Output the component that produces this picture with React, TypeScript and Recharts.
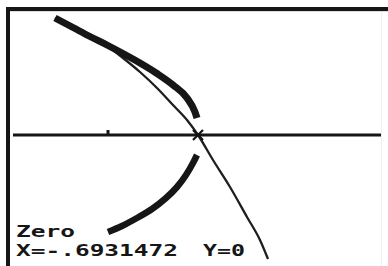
import React from 'react';
import { ComposedChart, Line, Scatter, XAxis, YAxis, ReferenceLine } from 'recharts';

// Window (calculator units)
const xDomain: [number, number] = [-1.3341, -0.0692];
const yDomain: [number, number] = [-0.3275, 0.31];
const axisStartX = -1.3239;
const tickX = -1;
const tickTop = 0.0125;
const zeroX = -0.6931472;
const zeroY = 0;

// Thick curve, upper branch
const upperX = [-1.1807, -1.1193, -1.0614, -1.0034, -0.9489, -0.8909, -0.833, -0.7784, -0.7306, -0.7034, -0.6966];
const upperY = [0.2925, 0.26875, 0.24625, 0.225, 0.20375, 0.18, 0.15375, 0.125, 0.0925, 0.0575, 0.0425];

// Thick curve, lower branch
const lowerX = [-0.6966, -0.7102, -0.7341, -0.7647, -0.8022, -0.85, -0.9011, -0.9523, -1.0];
const lowerY = [-0.05, -0.07, -0.1, -0.13, -0.1575, -0.185, -0.2075, -0.2275, -0.2425];

// Thin curve
const thinX = [-1.1807, -1.0955, -1.017, -0.9489, -0.8909, -0.833, -0.7784, -0.7306, -0.6931, -0.642, -0.584, -0.5261, -0.4818, -0.4545];
const thinY = [0.2925, 0.2625, 0.23, 0.1925, 0.1575, 0.1175, 0.075, 0.0375, 0, -0.0625, -0.13, -0.205, -0.2625, -0.31];

const labelTitle = 'Zero';
const labelX = 'X=-.6931472';
const labelY = 'Y=0';

const zip = (xs: number[], ys: number[]) => xs.map((x, i) => ({ x, y: ys[i] }));

const upperData = zip(upperX, upperY);
const lowerData = zip(lowerX, lowerY);
const thinData = zip(thinX, thinY);
const cursorData = [{ x: zeroX, y: zeroY }];

const CursorShape = (props: any) => {
  const { cx, cy } = props;
  if (cx == null || cy == null) return null;
  const s = 5;
  return (
    <g>
      <line x1={cx - s} y1={cy - s} x2={cx + s} y2={cy + s} stroke="#111" strokeWidth={2.2} />
      <line x1={cx - s} y1={cy + s} x2={cx + s} y2={cy - s} stroke="#111" strokeWidth={2.2} />
    </g>
  );
};

const ink = '#161616';
const fontFamily = '"DejaVu Sans Mono", "Liberation Mono", monospace';

export default function App() {
  return (
    <div style={{ position: 'absolute', left: 0, top: 0, width: 388, height: 266, background: '#fff', overflow: 'hidden' }}>
      <div
        style={{
          position: 'absolute',
          left: 6,
          top: 7,
          width: 382,
          height: 259,
          borderTop: `4px solid ${ink}`,
          borderLeft: `4px solid ${ink}`,
          boxSizing: 'border-box',
        }}
      />
      <div style={{ position: 'absolute', left: 10, top: 11, width: 378, height: 1, background: '#dcdcdc' }} />
      <div style={{ position: 'absolute', left: 381, top: 12, width: 1, height: 254, background: '#efefef' }} />
      <div style={{ position: 'absolute', left: 0, top: 0 }}>
        <ComposedChart width={388} height={266} margin={{ top: 11, right: 7, bottom: 0, left: 10 }}>
          <XAxis type="number" dataKey="x" domain={xDomain} hide allowDataOverflow />
          <YAxis type="number" dataKey="y" domain={yDomain} hide allowDataOverflow />
          <ReferenceLine
            segment={[{ x: axisStartX, y: 0 }, { x: xDomain[1], y: 0 }]}
            stroke={ink}
            strokeWidth={3}
            ifOverflow="visible"
          />
          <ReferenceLine
            segment={[{ x: tickX, y: 0 }, { x: tickX, y: tickTop }]}
            stroke={ink}
            strokeWidth={3}
            ifOverflow="visible"
          />
          <Line data={thinData} dataKey="y" type="monotone" stroke="#1e1e1e" strokeWidth={2.3} dot={false} isAnimationActive={false} />
          <Line data={upperData} dataKey="y" type="monotone" stroke={ink} strokeWidth={7} dot={false} isAnimationActive={false} />
          <Line data={lowerData} dataKey="y" type="natural" stroke={ink} strokeWidth={6.5} dot={false} isAnimationActive={false} />
          <Scatter data={cursorData} dataKey="y" shape={<CursorShape />} isAnimationActive={false} />
        </ComposedChart>
      </div>
      <svg width={388} height={266} style={{ position: 'absolute', left: 0, top: 0, pointerEvents: 'none' }}>
        <text x={16} y={237} fontFamily={fontFamily} fontWeight="bold" fontSize={16} fill={ink} textLength={59} lengthAdjust="spacingAndGlyphs">
          {labelTitle}
        </text>
        <text x={16} y={256} fontFamily={fontFamily} fontWeight="bold" fontSize={16} fill={ink} textLength={162} lengthAdjust="spacingAndGlyphs">
          {labelX}
        </text>
        <text x={203} y={256} fontFamily={fontFamily} fontWeight="bold" fontSize={16} fill={ink} textLength={42} lengthAdjust="spacingAndGlyphs">
          {labelY}
        </text>
      </svg>
    </div>
  );
}
